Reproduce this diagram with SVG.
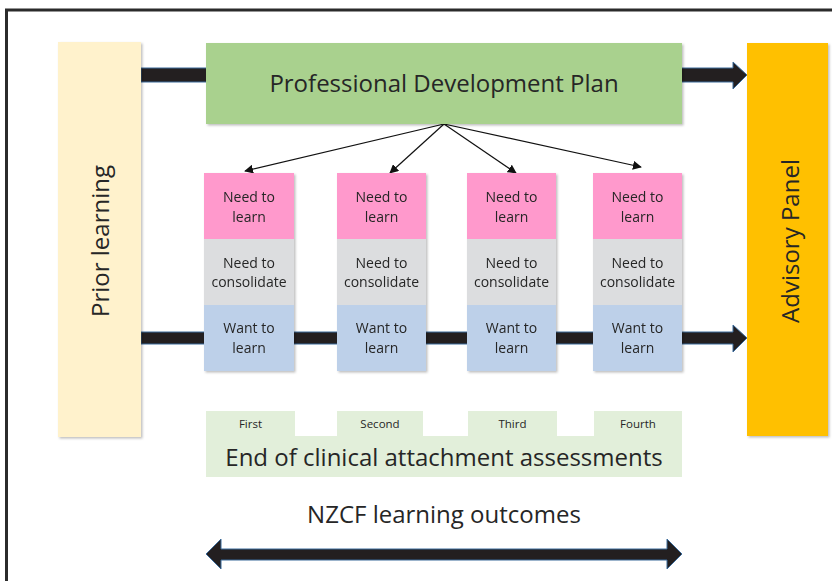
<svg xmlns="http://www.w3.org/2000/svg" width="832" height="581" viewBox="0 0 832 581">
  <defs>
    <style>
      .t { font-family: "Open Sans", "Liberation Sans", sans-serif; fill: #262626; text-anchor: middle; }
      .big { font-size: 24px; }
      .cell { font-size: 14px; }
      .tab { font-size: 11.5px; }
      .thick { fill: #231F20; stroke: #3A6A9A; stroke-width: 1; stroke-linejoin: miter; }
      .thin { stroke: #111; stroke-width: 1.2; fill: none; marker-end: url(#tip); }
      .learn { fill: #FF99CC; }
      .consol { fill: #DCDDDF; }
      .want { fill: #BDD0E9; }
    </style>
    <marker id="tip" viewBox="0 0 10 10" refX="9" refY="5" markerWidth="9" markerHeight="9" markerUnits="userSpaceOnUse" orient="auto">
      <path d="M0,0 L10,5 L0,10 z" fill="#111"/>
    </marker>
    <filter id="sh" x="-10%" y="-10%" width="130%" height="130%">
      <feDropShadow dx="1.5" dy="1.5" stdDeviation="1" flood-color="#000" flood-opacity="0.25"/>
    </filter>
  </defs>

  <!-- frame -->
  <rect x="6.5" y="10" width="900" height="700" fill="#fff" stroke="#2b2b2b" stroke-width="3"/>

  <!-- thick block arrows and thin pointers -->
  <g id="connectors">
    <rect class="thick" x="141" y="68" width="66" height="14"/>
    <polygon class="thick" points="681,68 733,68 733,62 747,75 733,89 733,82 681,82"/>
    <polygon class="thick" points="141,332 733,332 733,325 747,338 733,352 733,344 141,344"/>
    <polygon class="thick" points="206,554 221,539 221,549 667,549 667,539 682,554 667,569 667,560 221,560 221,569"/>
    <line class="thin" x1="444" y1="124" x2="245" y2="171"/>
    <line class="thin" x1="444" y1="124" x2="390" y2="173"/>
    <line class="thin" x1="444" y1="124" x2="516" y2="173"/>
    <line class="thin" x1="444" y1="124" x2="641" y2="167"/>
  </g>

  <g id="prior-learning">
    <rect x="58" y="42" width="83" height="395" fill="#FFF2CC" filter="url(#sh)"/>
    <text class="t big" transform="translate(109,241) rotate(-90)">Prior learning</text>
  </g>

  <g id="pdp">
    <rect x="206" y="43" width="476" height="81" fill="#A9D18E" filter="url(#sh)"/>
    <text class="t big" x="444" y="92">Professional Development Plan</text>
  </g>

  <g id="advisory-panel">
    <rect x="747" y="43" width="81" height="393" fill="#FFC000" filter="url(#sh)"/>
    <text class="t big" transform="translate(799,241) rotate(-90)">Advisory Panel</text>
  </g>

  <g id="col1" filter="url(#sh)">
    <rect class="learn" x="204" y="173" width="90" height="66"/>
    <rect class="consol" x="204" y="239" width="90" height="66"/>
    <rect class="want" x="204" y="305" width="90" height="66"/>
    <text class="t cell" x="249" y="202">Need to</text>
    <text class="t cell" x="249" y="222">learn</text>
    <text class="t cell" x="249" y="268">Need to</text>
    <text class="t cell" x="249" y="287">consolidate</text>
    <text class="t cell" x="249" y="333">Want to</text>
    <text class="t cell" x="249" y="353">learn</text>
  </g>

  <g id="col2" filter="url(#sh)">
    <rect class="learn" x="337" y="173" width="89" height="66"/>
    <rect class="consol" x="337" y="239" width="89" height="66"/>
    <rect class="want" x="337" y="305" width="89" height="66"/>
    <text class="t cell" x="381.5" y="202">Need to</text>
    <text class="t cell" x="381.5" y="222">learn</text>
    <text class="t cell" x="381.5" y="268">Need to</text>
    <text class="t cell" x="381.5" y="287">consolidate</text>
    <text class="t cell" x="381.5" y="333">Want to</text>
    <text class="t cell" x="381.5" y="353">learn</text>
  </g>

  <g id="col3" filter="url(#sh)">
    <rect class="learn" x="467" y="173" width="89" height="66"/>
    <rect class="consol" x="467" y="239" width="89" height="66"/>
    <rect class="want" x="467" y="305" width="89" height="66"/>
    <text class="t cell" x="511.5" y="202">Need to</text>
    <text class="t cell" x="511.5" y="222">learn</text>
    <text class="t cell" x="511.5" y="268">Need to</text>
    <text class="t cell" x="511.5" y="287">consolidate</text>
    <text class="t cell" x="511.5" y="333">Want to</text>
    <text class="t cell" x="511.5" y="353">learn</text>
  </g>

  <g id="col4" filter="url(#sh)">
    <rect class="learn" x="593" y="173" width="89" height="66"/>
    <rect class="consol" x="593" y="239" width="89" height="66"/>
    <rect class="want" x="593" y="305" width="89" height="66"/>
    <text class="t cell" x="637.5" y="202">Need to</text>
    <text class="t cell" x="637.5" y="222">learn</text>
    <text class="t cell" x="637.5" y="268">Need to</text>
    <text class="t cell" x="637.5" y="287">consolidate</text>
    <text class="t cell" x="637.5" y="333">Want to</text>
    <text class="t cell" x="637.5" y="353">learn</text>
  </g>

  <g id="assessments">
    <rect x="206" y="411" width="89" height="26" fill="#E2EFDA"/>
    <rect x="337" y="411" width="86" height="26" fill="#E2EFDA"/>
    <rect x="468" y="411" width="89" height="26" fill="#E2EFDA"/>
    <rect x="594" y="411" width="88" height="26" fill="#E2EFDA"/>
    <rect x="206" y="436" width="476" height="41" fill="#E2EFDA"/>
    <text class="t tab" x="250.5" y="428">First</text>
    <text class="t tab" x="380" y="428">Second</text>
    <text class="t tab" x="512.5" y="428">Third</text>
    <text class="t tab" x="638" y="428">Fourth</text>
    <text class="t big" x="444" y="466">End of clinical attachment assessments</text>
  </g>

  <g id="outcomes">
    <text class="t big" x="444" y="523">NZCF learning outcomes</text>
  </g>
</svg>
